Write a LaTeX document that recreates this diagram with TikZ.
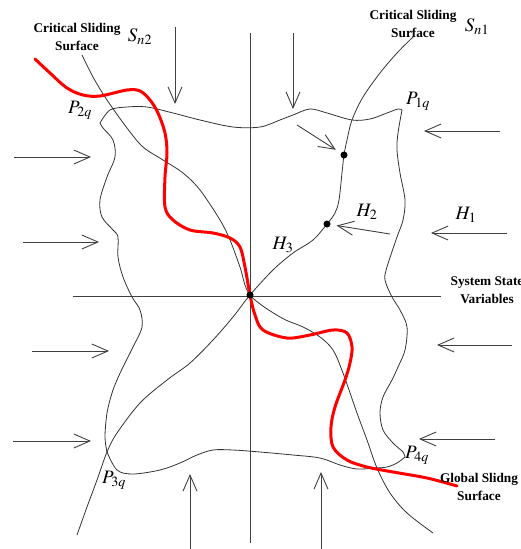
\documentclass[tikz,border=0pt]{standalone}
\usepackage{mathptmx}
\usepackage{fontspec}
\setmainfont{Liberation Serif}
\usetikzlibrary{arrows.meta}

\begin{document}
\begin{tikzpicture}[
    x=1pt, y=-1pt,
    curve/.style={black!80, line width=0.8pt},
    axis/.style={black!75, line width=1pt},
    global/.style={red, line width=3pt, line cap=round, line join=round},
    arrow/.style={
        black!75,
        line width=0.9pt,
        -{Straight Barb[length=16pt, width=14pt]}
    },
    heading/.style={
        font=\fontsize{13.3}{18.5}\selectfont\bfseries,
        align=center,
        inner sep=0pt
    },
    sym/.style={font=\fontsize{19}{22}\selectfont, inner sep=0pt},
    state/.style={circle, fill=black, inner sep=0pt, minimum size=7pt}
]
\useasboundingbox (0,0) rectangle (521,549);

% =========================================
% Axes (system state variables)
% =========================================
\coordinate (vtop) at (250,33);
\coordinate (vbot) at (250,543);
\coordinate (hleft) at (73,296);
\coordinate (hright) at (441,296);
\draw[axis] (vtop) -- (vbot);
\draw[axis] (hleft) -- (hright);

% =========================================
% Region boundary (corners P1q .. P4q)
% =========================================
% top edge: P2q -> P1q
\draw[curve] plot[smooth, tension=0.55] coordinates {
    (100,123) (110,110) (127,107) (147,107) (173,113) (200,120)
    (233,127) (260,127) (280,120) (293,115) (310,109) (327,113)
    (352,120) (370,119) (387,113) (398,109) (402,110)};
% right edge: P1q -> P4q
\draw[curve] plot[smooth, tension=0.55] coordinates {
    (402,110) (398,133) (397,150) (400,173) (405,200) (403,220)
    (397,237) (387,267) (385,280) (392,297) (400,310) (407,327)
    (405,350) (398,367) (392,380) (383,397) (380,413) (383,430)
    (393,443) (403,452) (405,457)};
% bottom edge: P4q -> P3q
\draw[curve] plot[smooth, tension=0.55] coordinates {
    (405,457) (397,463) (387,467) (375,468) (357,469) (340,465)
    (320,458) (293,455) (260,452) (233,450) (213,450) (197,455)
    (180,463) (160,470) (133,474) (117,470) (107,452)};
% left edge: P3q -> P2q
\draw[curve] plot[smooth, tension=0.55] coordinates {
    (107,452) (105,437) (107,413) (112,393) (117,380) (123,367)
    (133,347) (142,327) (140,310) (132,297) (123,277) (118,257)
    (118,237) (113,230) (102,217) (100,200) (107,177) (115,157)
    (113,140) (103,128) (100,123)};

% =========================================
% Critical sliding surfaces
% =========================================
\draw[curve] plot[smooth, tension=0.55] coordinates {
    (82,55) (93,77) (107,100) (127,128) (143,147) (163,160)
    (183,173) (200,190) (220,220) (230,240) (240,267) (250,295)
    (280,317) (303,327) (320,337) (333,350) (343,373) (357,413)
    (367,440) (377,468) (390,493) (407,513) (433,533)};
\draw[curve] plot[smooth, tension=0.55] coordinates {
    (413,37) (397,53) (380,73) (363,97) (352,120) (347,140)
    (344,155) (342,173) (339,200) (335,213) (327,224) (313,240)
    (293,253) (273,270) (250,295) (233,317) (213,340) (190,363)
    (167,380) (140,403) (117,433) (107,452) (97,480) (87,507)
    (77,535)};

% =========================================
% Global sliding surface (red)
% =========================================
\draw[global] plot[smooth, tension=0.55] coordinates {
    (35,59) (50,73) (67,88) (83,95) (100,96) (127,90) (140,91)
    (150,100) (158,113) (165,133) (167,153) (165,177) (165,207)
    (173,220) (190,230) (213,233) (230,238) (240,247) (245,267)
    (250,295) (255,315) (263,330) (287,338) (310,335) (333,330)
    (347,333) (352,347) (350,363) (345,380) (335,407) (331,427)
    (333,447) (347,460) (367,467) (393,472) (427,478) (457,486)};

% =========================================
% State points
% =========================================
\node[state] (O) at (250,295) {};
\node[state] (H2pt) at (327,224) {};
\node[state] (Spt) at (344,155) {};

% =========================================
% Reaching arrows
% =========================================
\coordinate (t1s) at (175,27);   \coordinate (t1e) at (175,104);
\coordinate (t2s) at (293,33);   \coordinate (t2e) at (293,109);
\coordinate (b1s) at (190,549);  \coordinate (b1e) at (190,474);
\coordinate (b2s) at (321,549);  \coordinate (b2e) at (321,472);
\coordinate (l1s) at (14,157);   \coordinate (l1e) at (91,157);
\coordinate (l2s) at (23,242);   \coordinate (l2e) at (99,242);
\coordinate (l3s) at (32,351);   \coordinate (l3e) at (109,351);
\coordinate (l4s) at (13,441);   \coordinate (l4e) at (91,441);
\coordinate (r1s) at (500,131);  \coordinate (r1e) at (424,131);
\coordinate (r2s) at (507,233);  \coordinate (r2e) at (431,233);
\coordinate (r3s) at (512,345);  \coordinate (r3e) at (437,345);
\coordinate (r4s) at (495,439);  \coordinate (r4e) at (419,439);
\coordinate (dgs) at (297,125);
\coordinate (h2s) at (390,234);

\draw[arrow] (t1s) -- (t1e);
\draw[arrow] (t2s) -- (t2e);
\draw[arrow] (b1s) -- (b1e);
\draw[arrow] (b2s) -- (b2e);
\draw[arrow] (l1s) -- (l1e);
\draw[arrow] (l2s) -- (l2e);
\draw[arrow] (l3s) -- (l3e);
\draw[arrow] (l4s) -- (l4e);
\draw[arrow] (r1s) -- (r1e);
\draw[arrow] (r2s) -- (r2e);
\draw[arrow] (r3s) -- (r3e);
\draw[arrow] (r4s) -- (r4e);
\draw[arrow, shorten >=6pt] (dgs) -- (Spt);
\draw[arrow, shorten >=6pt] (h2s) -- (H2pt);

% =========================================
% Labels
% =========================================
\node[heading] (crit2) at (77,37) {Critical Sliding\\Surface};
\node[heading] (crit1) at (413,24) {Critical Sliding\\Surface};
\node[heading] (sysvar) at (487,290) {System State\\Variables};
\node[heading] (glob) at (479,487) {Global Slidng\\Surface};

\node[sym] (Sn2) at (140,37) {$S_{n2}$};
\node[sym] (Sn1) at (477,27) {$S_{n1}$};
\node[sym] (P2q) at (80,110) {$P_{2q}$};
\node[sym] (P1q) at (418,101) {$P_{1q}$};
\node[sym] (P3q) at (114,480) {$P_{3q}$};
\node[sym] (P4q) at (417,455) {$P_{4q}$};
\node[sym] (H1) at (466,215) {$H_1$};
\node[sym] (H2) at (367,212) {$H_2$};
\node[sym] (H3) at (283,245) {$H_3$};

\end{tikzpicture}
\end{document}
